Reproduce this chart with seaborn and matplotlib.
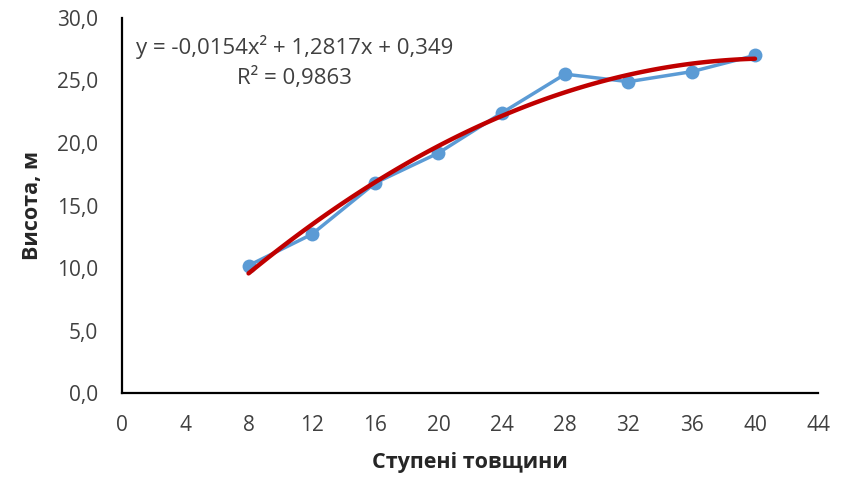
import matplotlib
matplotlib.use("Agg")
import matplotlib.pyplot as plt
import numpy as np
import pandas as pd
import seaborn as sns
from matplotlib.ticker import FuncFormatter

# data
stupeni = [8, 12, 16, 20, 24, 28, 32, 36, 40]
vysota = [10.2, 12.7, 16.8, 19.2, 22.4, 25.5, 24.9, 25.7, 27.0]

df = pd.DataFrame({"x": stupeni, "y": vysota})

sns.set_style("white")
plt.rcParams['font.family'] = ['Open Sans', 'DejaVu Sans']

fig = plt.figure(figsize=(8.41, 4.83), dpi=100)
ax = fig.add_axes([0.145, 0.186, 0.828, 0.777])

sns.lineplot(data=df, x="x", y="y", ax=ax, color="#5B9BD5", linewidth=2.5,
             marker="o", markersize=10, markeredgewidth=0)
sns.regplot(data=df, x="x", y="y", ax=ax, order=2, scatter=False, ci=None,
            truncate=True, line_kws={"color": "#C00000", "linewidth": 3.2})

ax.set_xlim(0, 44)
ax.set_ylim(0, 30)
ax.set_xticks(range(0, 45, 4))
ax.set_yticks(np.arange(0, 31, 5))
ax.yaxis.set_major_formatter(FuncFormatter(lambda v, p: f"{v:.1f}".replace(".", ",")))
ax.tick_params(axis="both", length=0, labelsize=15, colors="#404040")
ax.tick_params(axis="y", pad=17)
ax.tick_params(axis="x", pad=16)

for s in ["top", "right"]:
    ax.spines[s].set_visible(False)
for s in ["left", "bottom"]:
    ax.spines[s].set_color("black")
    ax.spines[s].set_linewidth(1.6)

ax.set_xlabel("Ступені товщини", fontsize=15.5, fontweight="bold", labelpad=11,
              color="#262626")
ax.set_ylabel("Висота, м", fontsize=15.5, fontweight="bold", labelpad=10,
              color="#262626")

ax.text(0.248, 0.883, "y = -0,0154x² + 1,2817x + 0,349\nR² = 0,9863",
        transform=ax.transAxes, ha="center", va="center", fontsize=16,
        color="#404040", linespacing=1.5)

fig.savefig("out.png", dpi=100)
